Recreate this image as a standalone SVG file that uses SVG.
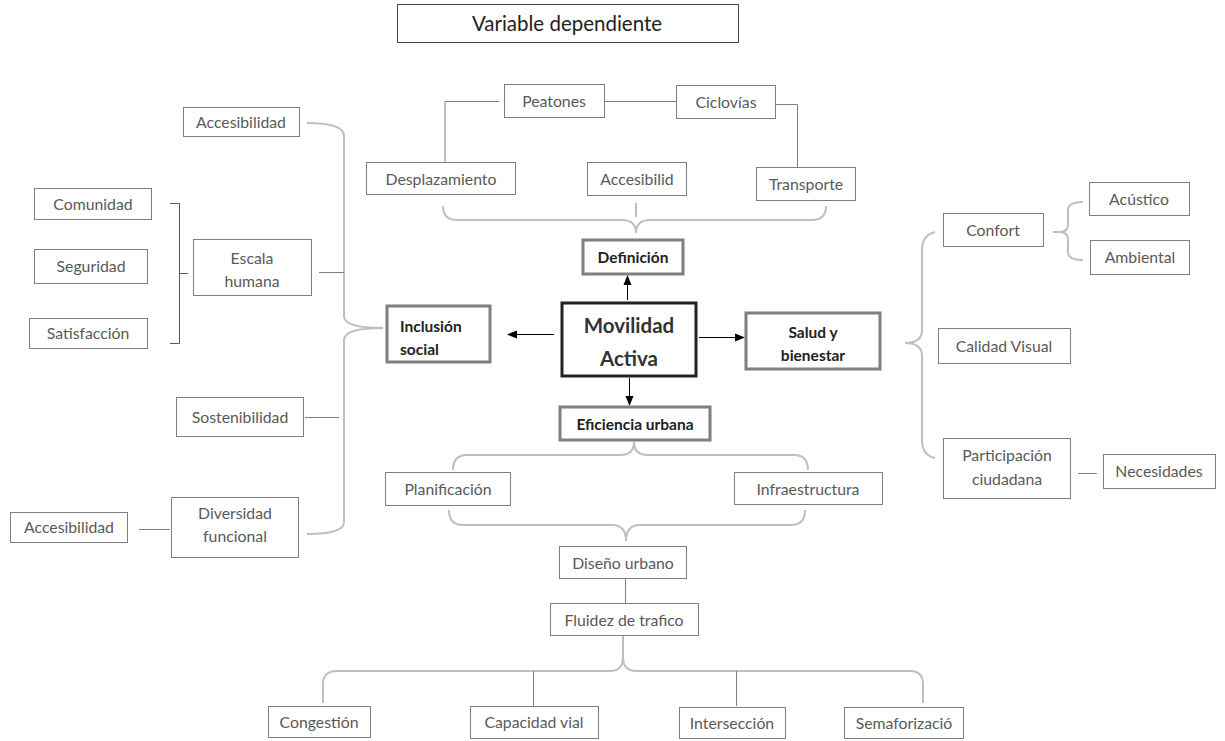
<svg xmlns="http://www.w3.org/2000/svg" width="1225" height="741" viewBox="0 0 1225 741">
<style>
.b{fill:#fff;stroke:#7f7f7f;stroke-width:1}
.bb{fill:#fff;stroke:#7f7f7f;stroke-width:3}
.bm{fill:#fff;stroke:#222;stroke-width:3}
.t{font-family:Lato,"Open Sans","Liberation Sans",sans-serif;font-size:15.8px;fill:#595959;text-anchor:middle}
.tb{font-family:Lato,"Open Sans","Liberation Sans",sans-serif;font-size:15.5px;font-weight:bold;fill:#222;text-anchor:middle}
.br{fill:none;stroke:#bfbfbf;stroke-width:2}
.ln{fill:none;stroke:#7f7f7f;stroke-width:1}
.dk{fill:none;stroke:#595959;stroke-width:1}
.ar{fill:none;stroke:#000;stroke-width:1;marker-end:url(#ah)}
</style>
<defs>
<marker id="ah" markerUnits="userSpaceOnUse" markerWidth="10" markerHeight="10" viewBox="0 0 10 10" refX="9" refY="5" orient="auto">
<path d="M0,1 L10,5 L0,9 Z" fill="#000"/>
</marker>
</defs>
<rect width="1225" height="741" fill="#fff"/>

<g id="connectors">
<path class="ln" d="M445,162 L445,101.5 L499,101.5"/>
<path class="ln" d="M605,101.5 L676,101.5"/>
<path class="ln" d="M776,104.5 L797.5,104.5 L797.5,167"/>
<path class="br" d="M636,203 L636,217"/>
<path class="br" d="M443,206 Q443,220 457,220 L622,220 Q636,220 636,233 Q636,220 650,220 L812,220 Q826,220 826,206"/>
<path class="ar" d="M627.5,300 L627.5,276"/>
<path class="ar" d="M554,334.5 L508,334.5"/>
<path class="ar" d="M699,337.5 L744,337.5"/>
<path class="ar" d="M629.5,378 L629.5,405"/>
<path class="br" d="M453,470 Q453,455 467,455 L620,455 Q634,455 634,442 Q634,455 648,455 L794,455 Q808,455 808,470"/>
<path class="br" d="M449,510 Q449,525 463,525 L612,525 Q626,525 626,541 Q626,525 640,525 L791,525 Q805,525 805,510"/>
<path class="ln" d="M625.5,578 L625.5,603"/>
<path class="br" d="M323,703 L323,684 Q323,671 337,671 L610,671 Q623,671 623,657 L623,636 M623,657 Q623,671 636,671 L910,671 Q923,671 923,684 L923,703"/>
<path class="ln" d="M533.5,671 L533.5,706 M736.5,671 L736.5,706"/>
<path class="br" d="M307,123 Q344,123 344,136 L344,316 Q344,328 383,328 Q344,328 344,340 L344,522 Q344,534 307,534"/>
<path class="ln" d="M319,272.5 L344,272.5"/>
<path class="ln" d="M305,417.5 L339,417.5"/>
<path class="ln" d="M139,529.5 L170,529.5"/>
<path class="dk" d="M170,203.5 L179.5,203.5 L179.5,343.5 L170,343.5 M179.5,273.5 L188,273.5"/>
<path class="br" d="M935,232 Q922,235 922,250 L922,330 Q922,343 905,343 Q922,343 922,356 L922,440 Q922,455 935,458"/>
<path class="br" d="M1053,232 L1060,232 Q1068,232 1068,224 L1068,210 Q1068,202 1083,202 M1060,232 Q1068,232 1068,240 L1068,252 Q1068,260 1083,260"/>
<path class="ln" d="M1078,473.5 L1097,473.5"/>
</g>

<g id="title"><rect x="397.5" y="4.5" width="341" height="38" class="b" style="stroke:#444"/><text x="567" y="30.5" class="t" style="font-size:20.5px;fill:#222">Variable dependiente</text></g>

<g id="peatones"><rect x="504.5" y="84.5" width="100" height="33" class="b"/><text x="554" y="107" class="t">Peatones</text></g>
<g id="ciclovias"><rect x="676.5" y="85.5" width="99" height="33" class="b"/><text x="726" y="108" class="t">Ciclovías</text></g>
<g id="desplazamiento"><rect x="366.5" y="162.5" width="149" height="32" class="b"/><text x="441" y="184.5" class="t">Desplazamiento</text></g>
<g id="accesibilid"><rect x="587.5" y="162.5" width="99" height="33" class="b"/><text x="637" y="185" class="t">Accesibilid</text></g>
<g id="transporte"><rect x="756.5" y="167.5" width="99" height="33" class="b"/><text x="806" y="190" class="t">Transporte</text></g>

<g id="definicion"><rect x="583" y="240" width="100" height="34" class="bb"/><text x="633" y="262.5" class="tb">Definición</text></g>
<g id="movilidad"><rect x="562" y="303" width="134" height="73" class="bm"/><text x="629" y="333" class="tb" style="font-size:20.5px;fill:#333">Movilidad</text><text x="629" y="366" class="tb" style="font-size:20.5px;fill:#333">Activa</text></g>
<g id="inclusion"><rect x="387" y="306" width="103" height="56" class="bb"/><text x="400" y="332" class="tb" style="text-anchor:start">Inclusión</text><text x="400" y="355" class="tb" style="text-anchor:start">social</text></g>
<g id="salud"><rect x="746" y="313" width="134" height="56" class="bb"/><text x="813" y="338" class="tb">Salud y</text><text x="813" y="361" class="tb">bienestar</text></g>
<g id="eficiencia"><rect x="560" y="407" width="150" height="33" class="bb"/><text x="635" y="429.5" class="tb">Eficiencia urbana</text></g>

<g id="planificacion"><rect x="385.5" y="472.5" width="125" height="33" class="b"/><text x="448" y="495" class="t">Planificación</text></g>
<g id="infraestructura"><rect x="734.5" y="472.5" width="148" height="32" class="b"/><text x="808" y="494.5" class="t">Infraestructura</text></g>
<g id="diseno"><rect x="559.5" y="546.5" width="127" height="32" class="b"/><text x="623" y="568.5" class="t">Diseño urbano</text></g>
<g id="fluidez"><rect x="550.5" y="603.5" width="148" height="32" class="b"/><text x="624" y="625.5" class="t">Fluidez de trafico</text></g>
<g id="congestion"><rect x="268.5" y="706.5" width="102" height="31" class="b"/><text x="319" y="728" class="t">Congestión</text></g>
<g id="capacidad"><rect x="470.5" y="706.5" width="128" height="32" class="b"/><text x="534" y="728" class="t">Capacidad vial</text></g>
<g id="interseccion"><rect x="679.5" y="707.5" width="106" height="31" class="b"/><text x="732" y="729" class="t">Intersección</text></g>
<g id="semaforizacion"><rect x="844.5" y="707.5" width="119" height="31" class="b"/><text x="904" y="729" class="t">Semaforizació</text></g>

<g id="accesibilidad1"><rect x="183.5" y="107.5" width="116" height="29" class="b"/><text x="241" y="127.5" class="t">Accesibilidad</text></g>
<g id="comunidad"><rect x="34.5" y="188.5" width="117" height="31" class="b"/><text x="93" y="209.5" class="t">Comunidad</text></g>
<g id="seguridad"><rect x="34.5" y="249.5" width="113" height="34" class="b"/><text x="91" y="272" class="t">Seguridad</text></g>
<g id="satisfaccion"><rect x="29.5" y="318.5" width="118" height="30" class="b"/><text x="88" y="339" class="t">Satisfacción</text></g>
<g id="escala"><rect x="193.5" y="239.5" width="118" height="56" class="b"/><text x="252" y="263.5" class="t">Escala</text><text x="252" y="286.5" class="t">humana</text></g>
<g id="sostenibilidad"><rect x="176.5" y="397.5" width="127" height="39" class="b"/><text x="240" y="422.5" class="t">Sostenibilidad</text></g>
<g id="diversidad"><rect x="171.5" y="497.5" width="127" height="60" class="b"/><text x="235" y="518.5" class="t">Diversidad</text><text x="235" y="542" class="t">funcional</text></g>
<g id="accesibilidad2"><rect x="10.5" y="512.5" width="117" height="30" class="b"/><text x="69" y="533" class="t">Accesibilidad</text></g>

<g id="confort"><rect x="943.5" y="213.5" width="100" height="33" class="b"/><text x="993" y="236" class="t">Confort</text></g>
<g id="acustico"><rect x="1089.5" y="182.5" width="100" height="33" class="b"/><text x="1139" y="205" class="t">Acústico</text></g>
<g id="ambiental"><rect x="1090.5" y="240.5" width="99" height="34" class="b"/><text x="1140" y="263" class="t">Ambiental</text></g>
<g id="calidad"><rect x="938.5" y="328.5" width="132" height="35" class="b"/><text x="1004" y="351.5" class="t">Calidad Visual</text></g>
<g id="participacion"><rect x="943.5" y="438.5" width="127" height="60" class="b"/><text x="1007" y="460.5" class="t">Participación</text><text x="1007" y="484.5" class="t">ciudadana</text></g>
<g id="necesidades"><rect x="1103.5" y="454.5" width="112" height="34" class="b"/><text x="1159" y="477" class="t">Necesidades</text></g>
</svg>
